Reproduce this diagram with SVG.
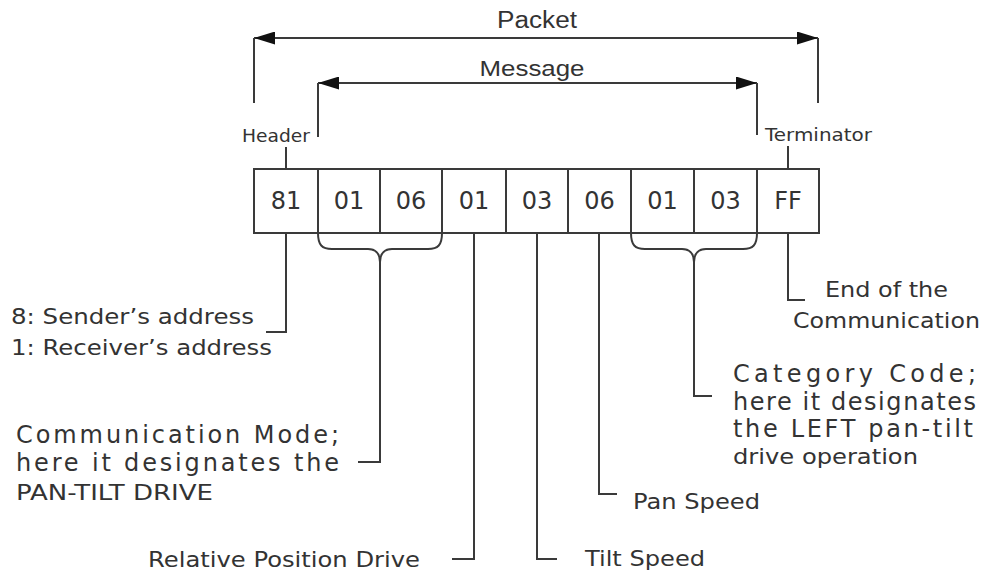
<svg xmlns="http://www.w3.org/2000/svg" width="987" height="576" viewBox="0 0 987 576">
<style>
  .bx { fill: #ffffff; stroke: #3a3a3a; stroke-width: 2; }
  .ln { fill: none; stroke: #3a3a3a; stroke-width: 2; }
  .dig { font-family: "DejaVu Sans", Verdana, sans-serif; font-size: 24px; fill: #333333; text-anchor: middle; }
  .ar { font-family: "Liberation Sans", Arial, sans-serif; fill: #333333; }
  .vd { font-family: "DejaVu Sans", Verdana, sans-serif; fill: #333333; font-size: 22px; }
  .sp { font-family: "DejaVu Sans", Verdana, sans-serif; fill: #333333; font-size: 24px; }
  .sm { font-family: "DejaVu Sans", Verdana, sans-serif; fill: #333333; font-size: 18px; }
</style>
<defs>
  <marker id="ah" viewBox="0 0 21 13" refX="21" refY="6.5" markerWidth="21" markerHeight="13" markerUnits="userSpaceOnUse" orient="auto-start-reverse">
    <path d="M0,0 L21,6.5 L0,13 Z" fill="#111111"/>
  </marker>
</defs>

<g id="connectors">
  <!-- Packet span -->
  <line class="ln" x1="254" y1="38" x2="818" y2="38" marker-start="url(#ah)" marker-end="url(#ah)"/>
  <path class="ln" d="M254,38 V103 M818,38 V103"/>
  <!-- Message span -->
  <line class="ln" x1="318" y1="83" x2="757" y2="83" marker-start="url(#ah)" marker-end="url(#ah)"/>
  <path class="ln" d="M318,83 V137 M757,83 V135"/>
  <!-- header / terminator ticks -->
  <path class="ln" d="M286,147 V169 M788,146 V169"/>
  <!-- 81 -->
  <path class="ln" d="M286,233 V332 H266"/>
  <!-- brace 01 06 -->
  <path class="ln" d="M318,233 C318,245 322,249 332,249 H368 C375,249 380,253 380,262 C380,253 385,249 392,249 H428 C438,249 442,245 442,233"/>
  <path class="ln" d="M380,262 V462 H358"/>
  <!-- 01 relative position -->
  <path class="ln" d="M474,233 V559 H452"/>
  <!-- 03 tilt speed -->
  <path class="ln" d="M537,233 V559 H557"/>
  <!-- 06 pan speed -->
  <path class="ln" d="M599,233 V494 H617"/>
  <!-- brace 01 03 -->
  <path class="ln" d="M631,233 C631,245 635,249 645,249 H682 C689,249 694,253 694,262 C694,253 699,249 706,249 H743 C753,249 757,245 757,233"/>
  <path class="ln" d="M694,262 V396 H712"/>
  <!-- FF -->
  <path class="ln" d="M788,233 V300 H805"/>
</g>

<g id="labels-top">
  <text class="ar" x="537" y="28" font-size="23" text-anchor="middle" textLength="80" lengthAdjust="spacingAndGlyphs">Packet</text>
  <text class="ar" x="532" y="76" font-size="22" text-anchor="middle" textLength="105" lengthAdjust="spacingAndGlyphs">Message</text>
  <text class="sm" x="242" y="142" textLength="68" lengthAdjust="spacingAndGlyphs">Header</text>
  <text class="sm" x="765" y="141" textLength="107" lengthAdjust="spacingAndGlyphs">Terminator</text>
</g>

<g id="box-81"><rect class="bx" x="254" y="169" width="64" height="64"/><text class="dig" x="286" y="209">81</text></g>
<g id="box-01a"><rect class="bx" x="318" y="169" width="62" height="64"/><text class="dig" x="349" y="209">01</text></g>
<g id="box-06a"><rect class="bx" x="380" y="169" width="62" height="64"/><text class="dig" x="411" y="209">06</text></g>
<g id="box-01b"><rect class="bx" x="442" y="169" width="64" height="64"/><text class="dig" x="474" y="209">01</text></g>
<g id="box-03a"><rect class="bx" x="506" y="169" width="62" height="64"/><text class="dig" x="537" y="209">03</text></g>
<g id="box-06b"><rect class="bx" x="568" y="169" width="63" height="64"/><text class="dig" x="599.5" y="209">06</text></g>
<g id="box-01c"><rect class="bx" x="631" y="169" width="63" height="64"/><text class="dig" x="662.5" y="209">01</text></g>
<g id="box-03b"><rect class="bx" x="694" y="169" width="63" height="64"/><text class="dig" x="725.5" y="209">03</text></g>
<g id="box-FF"><rect class="bx" x="757" y="169" width="62" height="64"/><text class="dig" x="788" y="209">FF</text></g>

<g id="label-address">
  <text class="vd" x="11" y="324" textLength="243" lengthAdjust="spacingAndGlyphs">8: Sender’s address</text>
  <text class="vd" x="11" y="355" textLength="261" lengthAdjust="spacingAndGlyphs">1: Receiver’s address</text>
</g>
<g id="label-mode">
  <text class="sp" x="16" y="443" textLength="323" lengthAdjust="spacing">Communication Mode;</text>
  <text class="sp" x="16" y="471" textLength="323" lengthAdjust="spacing">here it designates the</text>
  <text class="vd" x="16" y="500" textLength="197" lengthAdjust="spacingAndGlyphs">PAN-TILT DRIVE</text>
</g>
<g id="label-relative">
  <text class="vd" x="148" y="567" textLength="272" lengthAdjust="spacingAndGlyphs">Relative Position Drive</text>
</g>
<g id="label-tilt">
  <text class="vd" x="585" y="566" textLength="120" lengthAdjust="spacingAndGlyphs">Tilt Speed</text>
</g>
<g id="label-pan">
  <text class="vd" x="633" y="509" textLength="127" lengthAdjust="spacingAndGlyphs">Pan Speed</text>
</g>
<g id="label-category">
  <text class="sp" x="733" y="382" textLength="243" lengthAdjust="spacing">Category Code;</text>
  <text class="sp" x="733" y="410" textLength="243" lengthAdjust="spacing">here it designates</text>
  <text class="sp" x="733" y="437" textLength="240" lengthAdjust="spacing">the LEFT pan-tilt</text>
  <text class="vd" x="733" y="464" textLength="185" lengthAdjust="spacingAndGlyphs">drive operation</text>
</g>
<g id="label-end">
  <text class="vd" x="825" y="297" textLength="123" lengthAdjust="spacingAndGlyphs">End of the</text>
  <text class="vd" x="793" y="328" textLength="187" lengthAdjust="spacingAndGlyphs">Communication</text>
</g>
</svg>
